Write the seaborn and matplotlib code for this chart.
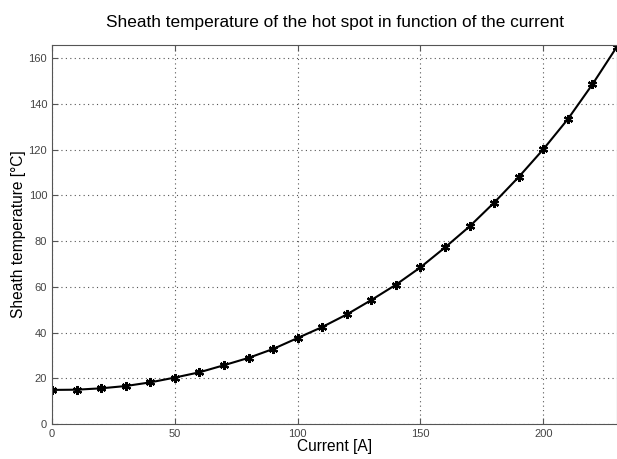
import matplotlib.pyplot as plt
import numpy as np
import seaborn as sns
import pandas as pd

sns.set_style("white")
plt.rcParams['font.family'] = ['Liberation Sans', 'DejaVu Sans']
plt.rcParams['text.color'] = 'black'
plt.rcParams['axes.labelcolor'] = 'black'

current = [0, 10, 20, 30, 40, 50, 60, 70, 80, 90, 100, 110, 120,
           130, 140, 150, 160, 170, 180, 190, 200, 210, 220, 230]
temperature = [14.9, 15.0, 15.6, 16.6, 18.2, 20.3, 22.6, 25.7, 28.9, 32.8,
               37.6, 42.4, 47.9, 54.2, 60.9, 68.5, 77.2, 86.4, 96.8, 108.0,
               120.1, 133.3, 148.5, 165.0]

df = pd.DataFrame({"Current": current, "Temp": temperature})

fig = plt.figure(figsize=(6.17, 4.59), dpi=100)
ax = fig.add_axes([52 / 617, 35 / 459, 1 - 52 / 617, (424 - 45) / 459])

sns.lineplot(data=df, x="Current", y="Temp", ax=ax, color='black',
             linewidth=1.5, marker=(6, 2, 0), markersize=6.5,
             markeredgewidth=1.6, markeredgecolor='black')

ax.set_xlim(0, 230)
ax.set_ylim(0, 165.7)
ax.set_xticks([0, 50, 100, 150, 200])
ax.set_yticks(np.arange(0, 161, 20))
ax.grid(True, linestyle=(0, (1, 3)), color='#555555', linewidth=0.8)
ax.tick_params(direction='in', length=4, width=0.8, colors='#555555',
               labelcolor='#444444', labelsize=8, top=True, right=False,
               bottom=True, left=True)
for s in ax.spines.values():
    s.set_color('#555555')
    s.set_linewidth(0.8)

ax.set_xlabel("Current [A]", fontsize=11.2, labelpad=0)
ax.set_ylabel("Sheath temperature [°C]", fontsize=11.2, labelpad=1.5)
ax.set_title("Sheath temperature of the hot spot in function of the current",
             fontsize=12.4, pad=13)

plt.savefig('out.png', dpi=100)
